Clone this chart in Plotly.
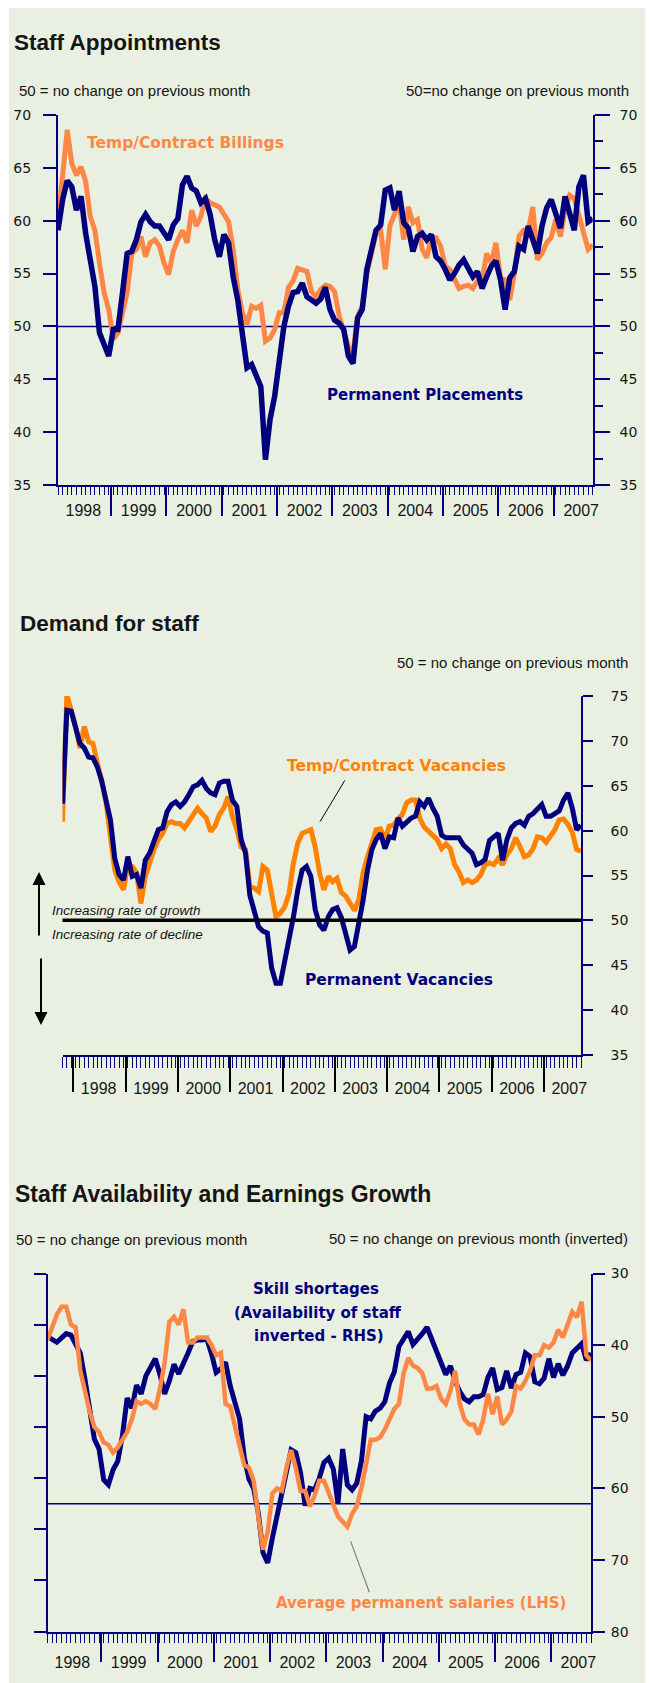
import plotly.graph_objects as go

# ---------------- data ----------------
years = ['1998', '1999', '2000', '2001', '2002', '2003', '2004', '2005', '2006', '2007']

# Chart 1: Staff Appointments, monthly Jan 1998 - Sep 2007
perm_placements = [
    59.1, 62.0, 63.8, 63.2, 61.0, 62.3, 58.8, 56.3, 53.8, 49.4, 48.4, 47.2,
    49.7, 49.7, 53.2, 56.9, 57.1, 58.2, 59.9, 60.6, 59.9, 59.5, 59.5, 58.8,
    58.2, 59.6, 60.2, 63.4, 64.2, 63.1, 62.8, 61.7, 62.1, 60.6, 58.2, 56.6,
    58.7, 57.9, 54.7, 52.5, 49.4, 46.1, 46.4, 45.3, 44.3, 37.4, 41.2, 43.4,
    47.2, 50.0, 51.9, 53.2, 53.3, 54.1, 52.8, 52.5, 52.2, 52.6, 53.7, 51.6,
    50.6, 50.3, 49.7, 47.2, 46.5, 50.8, 51.6, 55.4, 57.3, 59.1, 59.6, 62.9,
    63.1, 61.0, 62.8, 59.8, 59.3, 57.1, 58.5, 58.8, 58.2, 58.7, 56.6, 56.2,
    55.4, 54.4, 55.0, 55.8, 56.3, 55.4, 54.7, 55.2, 53.6, 54.7, 55.7, 56.2,
    54.4, 51.6, 54.6, 55.2, 57.6, 57.3, 59.5, 58.2, 56.9, 59.5, 61.2, 62.0,
    60.7, 59.3, 62.3, 60.7, 59.1, 63.2, 64.3, 59.9, 60.2]
temp_billings = [
    60.0, 64.0, 68.6, 65.4, 64.3, 65.1, 63.7, 60.4, 59.1, 56.0, 53.2, 51.6,
    48.8, 49.4, 51.3, 53.2, 56.9, 57.3, 58.5, 56.6, 57.9, 58.2, 57.6, 56.0,
    54.9, 57.1, 58.2, 59.1, 57.9, 61.0, 59.5, 60.4, 62.1, 61.7, 61.5, 61.3,
    60.6, 59.9, 57.3, 53.5, 51.3, 50.2, 51.9, 51.7, 52.0, 48.6, 48.9, 49.7,
    51.3, 51.3, 53.7, 54.3, 55.5, 55.4, 55.2, 53.3, 52.8, 53.5, 53.9, 53.8,
    53.3, 51.0, 49.7, 48.1, 47.5, 51.0, 51.9, 55.0, 56.9, 58.8, 59.1, 55.4,
    59.5, 60.7, 61.7, 58.2, 61.3, 59.8, 60.1, 57.3, 56.5, 58.4, 58.4, 57.6,
    55.7, 55.4, 54.6, 53.6, 53.8, 53.9, 53.6, 54.3, 54.4, 56.9, 56.0, 57.9,
    54.6, 54.4, 52.5, 55.0, 58.5, 59.1, 59.0, 61.3, 56.3, 56.9, 57.9, 58.4,
    60.1, 58.5, 61.0, 62.4, 62.1, 60.4, 58.8, 57.3, 57.7]

# Chart 2: Demand for staff, monthly Oct 1997 - Sep 2007
perm_vacancies = [
    63.0, 73.4, 73.3,
    71.6, 69.7, 69.2, 68.2, 68.1, 67.1, 65.5, 63.4, 61.2, 56.9, 55.1, 54.5,
    57.1, 54.9, 55.1, 53.6, 56.7, 57.5, 58.8, 60.1, 60.3, 62.1, 62.9, 63.2,
    62.7, 63.2, 64.0, 64.9, 65.1, 65.6, 64.7, 64.2, 64.0, 65.3, 65.5, 65.5,
    63.4, 62.7, 59.0, 57.5, 52.8, 51.2, 49.3, 48.8, 48.6, 44.7, 43.0, 43.0,
    45.4, 47.8, 50.4, 53.4, 55.6, 56.0, 54.9, 51.2, 49.5, 48.9, 50.4, 51.2,
    51.4, 50.3, 48.2, 46.7, 47.1, 49.5, 52.3, 55.6, 57.9, 59.0, 59.7, 58.0,
    59.3, 59.2, 61.4, 60.5, 61.0, 61.4, 61.6, 63.2, 62.7, 63.6, 62.5, 61.6,
    59.5, 59.2, 59.2, 59.2, 59.2, 58.4, 57.9, 57.5, 56.2, 56.4, 56.8, 58.9,
    59.3, 59.7, 56.7, 59.0, 60.3, 60.8, 61.0, 60.6, 61.6, 61.9, 62.4, 62.9,
    61.6, 61.6, 61.9, 62.2, 63.4, 64.2, 62.5, 60.1, 60.6]
temp_vacancies = [
    61.0, 75.1, 73.4,
    71.6, 69.2, 71.6, 69.9, 69.7, 67.5, 65.6, 63.1, 59.7, 55.6, 54.3, 53.4,
    56.2, 56.0, 55.3, 51.9, 54.9, 56.6, 57.9, 59.0, 59.7, 60.8, 61.0, 60.8,
    60.8, 60.3, 61.0, 61.9, 62.5, 61.9, 61.4, 59.9, 60.5, 61.8, 62.5, 63.8,
    61.6, 60.1, 58.2, 57.9, 53.8, 53.6, 53.2, 56.0, 55.6, 53.0, 50.4, 50.8,
    51.5, 53.0, 56.4, 58.6, 59.7, 59.9, 60.1, 58.2, 55.3, 53.4, 54.9, 54.3,
    54.7, 53.1, 52.7, 51.9, 51.1, 52.3, 55.3, 57.1, 58.8, 60.1, 60.2, 59.0,
    60.5, 60.6, 61.3, 61.8, 63.1, 63.4, 63.4, 61.4, 60.4, 59.9, 59.5, 59.0,
    58.0, 58.5, 58.0, 56.2, 55.4, 54.2, 54.5, 54.2, 54.5, 55.1, 56.2, 56.4,
    56.2, 56.9, 56.2, 57.3, 58.0, 59.2, 58.2, 57.1, 57.3, 58.0, 59.3, 59.2,
    58.7, 59.3, 60.1, 61.2, 61.3, 60.7, 59.8, 57.9, 57.7]

# Chart 3: Staff availability (RHS, inverted) and salaries (LHS), Jan 1998 - Sep 2007
skill_shortages = [
    38.8, 39.3, 39.6, 39.0, 38.4, 38.6, 39.7, 41.1, 44.8, 49.5, 53.1, 54.5,
    58.8, 59.5, 57.4, 56.2, 52.6, 47.4, 48.8, 45.6, 46.8, 44.3, 43.0, 41.9,
    44.1, 46.8, 45.0, 42.7, 44.0, 42.7, 41.1, 39.5, 39.3, 39.3, 39.1, 41.2,
    43.8, 43.3, 42.4, 45.7, 48.1, 50.3, 55.7, 58.7, 60.0, 63.5, 69.0, 70.4,
    66.9, 64.0, 60.5, 58.3, 54.6, 55.0, 57.8, 62.4, 60.0, 60.2, 58.6, 56.4,
    55.8, 57.3, 62.1, 54.5, 59.5, 60.2, 59.3, 56.2, 50.0, 50.3, 49.2, 48.8,
    47.9, 45.3, 43.8, 40.2, 39.0, 38.1, 39.9, 39.2, 38.4, 37.5, 39.1, 40.7,
    42.1, 44.1, 42.9, 45.0, 46.5, 47.5, 47.9, 47.2, 47.2, 46.9, 44.5, 43.2,
    46.2, 45.9, 43.6, 46.0, 44.1, 43.8, 41.1, 41.6, 45.1, 45.4, 44.6, 41.9,
    44.5, 42.6, 44.2, 42.9, 41.1, 40.4, 39.8, 42.1, 41.1]
avg_perm_salaries = [
    56.4, 56.9, 57.4, 57.7, 57.7, 57.0, 56.9, 55.2, 54.4, 53.6, 53.0, 52.8,
    52.4, 52.3, 52.0, 52.2, 52.5, 52.8, 53.3, 54.0, 53.9, 54.0, 53.9, 53.7,
    54.5, 55.5, 57.1, 57.3, 57.0, 57.6, 56.3, 56.3, 56.5, 56.5, 56.5, 56.2,
    55.8, 55.9, 53.9, 53.8, 53.0, 52.2, 51.5, 51.4, 50.9, 49.5, 48.2, 48.9,
    50.4, 50.6, 50.5, 51.4, 52.1, 51.4, 50.5, 50.5, 49.9, 50.3, 50.9, 50.9,
    50.4, 49.9, 49.5, 49.3, 49.1, 49.6, 49.9, 50.6, 51.5, 52.5, 52.5, 52.6,
    52.9, 53.3, 53.7, 53.9, 55.1, 55.7, 55.4, 55.3, 55.1, 54.5, 54.5, 54.6,
    54.1, 53.9, 54.4, 55.2, 53.9, 53.3, 53.1, 53.1, 52.7, 53.3, 54.3, 53.5,
    54.2, 53.1, 53.3, 53.6, 54.6, 54.5, 54.8, 55.2, 55.8, 55.8, 56.2, 56.1,
    56.3, 56.8, 56.5, 57.0, 57.5, 57.3, 57.9, 55.8, 55.6]

# month index positions (chart 2 starts three months earlier, Oct 1997)
m1 = list(range(len(perm_placements)))
m2 = list(range(len(perm_vacancies)))
m3 = list(range(len(skill_shortages)))
c2_offset = 3  # Jan 1998 is month index 3 in chart 2

# ---------------- style ----------------
# The page places the figure 8px in from the top-left corner (default body margin),
# so the figure is 8px smaller and every window position is shifted by 8px.
OFF = 8
W, H = 653 - OFF, 1683 - OFF
def px(x): return (x - OFF) / W
def py(y): return 1 - (y - OFF) / H

NAVY = '#00007E'
ORANGE1 = '#FF8745'
ORANGE2 = '#FF8200'
BG = '#E9F0E1'
TXT = '#151515'
SANS = 'Liberation Sans, Arial, sans-serif'
VERD = 'DejaVu Sans, Verdana, sans-serif'

fig = go.Figure()

# chart 1
fig.add_trace(go.Scatter(x=m1, y=temp_billings, mode='lines', xaxis='x', yaxis='y',
                         line=dict(color=ORANGE1, width=5), hoverinfo='skip'))
fig.add_trace(go.Scatter(x=m1, y=perm_placements, mode='lines', xaxis='x', yaxis='y2',
                         line=dict(color=NAVY, width=5.5), hoverinfo='skip'))
fig.add_trace(go.Scatter(x=[], y=[], xaxis='x2', yaxis='y', hoverinfo='skip'))
# chart 2
fig.add_trace(go.Scatter(x=m2, y=temp_vacancies, mode='lines', xaxis='x3', yaxis='y3',
                         line=dict(color=ORANGE2, width=5), hoverinfo='skip'))
fig.add_trace(go.Scatter(x=m2, y=perm_vacancies, mode='lines', xaxis='x3', yaxis='y3',
                         line=dict(color=NAVY, width=5), hoverinfo='skip'))
fig.add_trace(go.Scatter(x=[], y=[], xaxis='x4', yaxis='y3', hoverinfo='skip'))
# chart 3
fig.add_trace(go.Scatter(x=m3, y=skill_shortages, mode='lines', xaxis='x5', yaxis='y5',
                         line=dict(color=NAVY, width=5), hoverinfo='skip'))
fig.add_trace(go.Scatter(x=m3, y=avg_perm_salaries, mode='lines', xaxis='x5', yaxis='y6',
                         line=dict(color=ORANGE1, width=4.5), hoverinfo='skip'))
fig.add_trace(go.Scatter(x=[], y=[], xaxis='x6', yaxis='y5', hoverinfo='skip'))

n_years = len(years)
mid1 = [12 * k + 5.5 for k in range(n_years)]
sep1 = [12 * k + 11.5 for k in range(n_years - 1)]
mid2 = [12 * k + c2_offset + 5.3 for k in range(n_years)]
sep2 = [12 * k + c2_offset - 0.5 for k in range(n_years)]
mid3 = [12 * k + 5.3 for k in range(n_years)]

def xmain(domain, rng, mids, ticklen_m, mcolor, standoff):
    return dict(domain=domain, range=rng, showline=True, linecolor=NAVY, linewidth=2,
                tickmode='array', tickvals=mids, ticktext=years, ticks='',
                ticklabelstandoff=standoff, automargin=False,
                tickfont=dict(family=SANS, size=16, color=TXT),
                minor=dict(dtick=1, tick0=0, ticks='outside', ticklen=ticklen_m,
                           tickwidth=1.2, tickcolor=mcolor),
                showgrid=False, zeroline=False, fixedrange=True)

def xsep(overlay, anchor, rng, seps, ln, color):
    return dict(overlaying=overlay, anchor=anchor, range=rng, showline=False,
                tickmode='array', tickvals=seps, ticks='outside', ticklen=ln, tickwidth=2,
                tickcolor=color, showticklabels=False, showgrid=False, zeroline=False,
                side='bottom', automargin=False)

d1x = [px(58), px(592.7)]
d1y = [py(485), py(115)]
d2x = [px(62.5), px(581)]
d2y = [py(1055), py(696)]
d3x = [px(47.5), px(591)]
d3y = [py(1631.6), py(1273.5)]

axfont = dict(family=VERD, size=14, color=TXT)

fig.update_layout(
    width=W, height=H, margin=dict(l=0, r=0, t=0, b=0, pad=0, autoexpand=False),
    paper_bgcolor=BG, plot_bgcolor='rgba(0,0,0,0)', showlegend=False,
    xaxis=dict(anchor='y', **xmain(d1x, [0, 116], mid1, 8, NAVY, 10)),
    xaxis2=xsep('x', 'y', [0, 116], sep1, 30, NAVY),
    yaxis=dict(domain=d1y, anchor='x', range=[35, 70], side='left', showline=True,
               linecolor=NAVY, linewidth=2, ticks='outside', ticklen=13, tickwidth=2,
               tickcolor=NAVY, tickmode='linear', tick0=35, dtick=5, tickfont=axfont,
               ticklabelstandoff=9, showgrid=False, zeroline=False, automargin=False),
    yaxis2=dict(overlaying='y', anchor='x', side='right', range=[35, 70], showline=True,
                linecolor=NAVY, linewidth=2, ticks='outside', ticklen=15, tickwidth=2,
                tickcolor=NAVY, tickmode='linear', tick0=35, dtick=5, tickfont=axfont,
                ticklabelstandoff=7, automargin=False,
                minor=dict(dtick=2.5, tick0=35, ticks='outside', ticklen=8, tickwidth=1.5,
                           tickcolor=NAVY),
                showgrid=False, zeroline=False),
    xaxis3=dict(anchor='y3', **xmain(d2x, [0, 119], mid2, 11, NAVY, 18)),
    xaxis4=xsep('x3', 'y3', [0, 119], sep2, 36, '#000000'),
    yaxis3=dict(domain=d2y, anchor='x3', side='right', range=[35, 75], showline=True,
                linecolor=NAVY, linewidth=1.5, ticks='outside', ticklen=10, tickwidth=1.5,
                tickcolor=NAVY, tickmode='linear', tick0=35, dtick=5, tickfont=axfont,
                ticklabelstandoff=15, showgrid=False, zeroline=False, automargin=False),
    xaxis5=dict(anchor='y5', **xmain(d3x, [0, 116], mid3, 9, NAVY, 15)),
    xaxis6=xsep('x5', 'y5', [0, 116], sep1, 29, NAVY),
    yaxis5=dict(domain=d3y, anchor='x5', side='right', range=[80, 30], showline=True,
                linecolor=NAVY, linewidth=2, ticks='outside', ticklen=12, tickwidth=2,
                tickcolor=NAVY, tickmode='linear', tick0=30, dtick=10, tickfont=axfont,
                ticklabelstandoff=3, showgrid=False, zeroline=False, automargin=False),
    yaxis6=dict(overlaying='y5', anchor='x5', side='left', range=[45, 59], showline=True,
                linecolor=NAVY, linewidth=2, ticks='outside', ticklen=12, tickwidth=2,
                tickcolor=NAVY, tickmode='linear', tick0=45, dtick=2, automargin=False,
                showticklabels=False, showgrid=False, zeroline=False),
)

shapes = [
    dict(type='rect', xref='paper', yref='paper', x0=0, x1=px(9), y0=0, y1=1,
         fillcolor='#FFFFFF', line=dict(width=0), layer='below'),
    dict(type='line', xref='x domain', yref='y', x0=0, x1=1, y0=50, y1=50,
         line=dict(color=NAVY, width=1.5), layer='below'),
    dict(type='line', xref='x3 domain', yref='y3', x0=0, x1=1, y0=50, y1=50,
         line=dict(color='#000000', width=3.5), layer='above'),
    dict(type='line', xref='x5 domain', yref='y6', x0=0, x1=1, y0=50, y1=50,
         line=dict(color=NAVY, width=1.5), layer='below'),
    # leader lines
    dict(type='line', xref='x3', yref='y3', x0=64.8, y0=65.6, x1=59.1, y1=61.0,
         line=dict(color='#000000', width=1)),
    dict(type='line', xref='x5', yref='y5', x0=64.7, y0=67.4, x1=68.7, y1=74.5,
         line=dict(color='#808080', width=1.2)),
]
fig.update_layout(shapes=shapes)

def text(x, y, s, size, color=TXT, family=SANS, xanchor='left'):
    return dict(xref='paper', yref='paper', x=px(x), y=py(y), text=s, showarrow=False,
                xanchor=xanchor, yanchor='middle',
                font=dict(family=family, size=size, color=color))

ann = [
    # chart 1
    text(12, 42, '<b>Staff Appointments</b>', 22.5),
    text(17, 90, '50 = no change on previous month', 15),
    text(631, 90, '50=no change on previous month', 15, xanchor='right'),
    text(85, 143, '<b>Temp/Contract Billings</b>', 15.5, ORANGE1, VERD),
    text(325, 395, '<b>Permanent Placements</b>', 15, NAVY, VERD),
    # chart 2
    text(18, 623, '<b>Demand for staff</b>', 22.5),
    text(630, 663, '50 = no change on previous month', 15, xanchor='right'),
    text(285, 766, '<b>Temp/Contract Vacancies</b>', 15.5, ORANGE2, VERD),
    text(303, 980, '<b>Permanent Vacancies</b>', 15.5, NAVY, VERD),
    text(50, 911, '<i>Increasing rate of growth</i>', 13.5, TXT, SANS),
    text(50, 934, '<i>Increasing rate of decline</i>', 13.5, TXT, SANS),
    # chart 3
    text(13, 1194, '<b>Staff Availability and Earnings Growth</b>', 23),
    text(14, 1239, '50 = no change on previous month', 15),
    text(630, 1238, '50 = no change on previous month (inverted)', 15, xanchor='right'),
    text(316, 1289, '<b>Skill shortages</b>', 15, NAVY, VERD, 'center'),
    text(318, 1313, '<b>(Availability of staff</b>', 15, NAVY, VERD, 'center'),
    text(319, 1336, '<b>inverted - RHS)</b>', 15, NAVY, VERD, 'center'),
    text(274, 1603, '<b>Average permanent salaries (LHS)</b>', 15, ORANGE1, VERD),
    # arrows
    dict(xref='paper', yref='paper', x=px(39), y=py(872), ax=0, ay=65, text='',
         showarrow=True, arrowhead=2, arrowsize=1.3, arrowwidth=2, arrowcolor='#000000'),
    dict(xref='paper', yref='paper', x=px(41), y=py(1025), ax=0, ay=-68, text='',
         showarrow=True, arrowhead=2, arrowsize=1.3, arrowwidth=2, arrowcolor='#000000'),
]
fig.update_layout(annotations=ann)

fig.write_html('out.html', config={'displayModeBar': False})
